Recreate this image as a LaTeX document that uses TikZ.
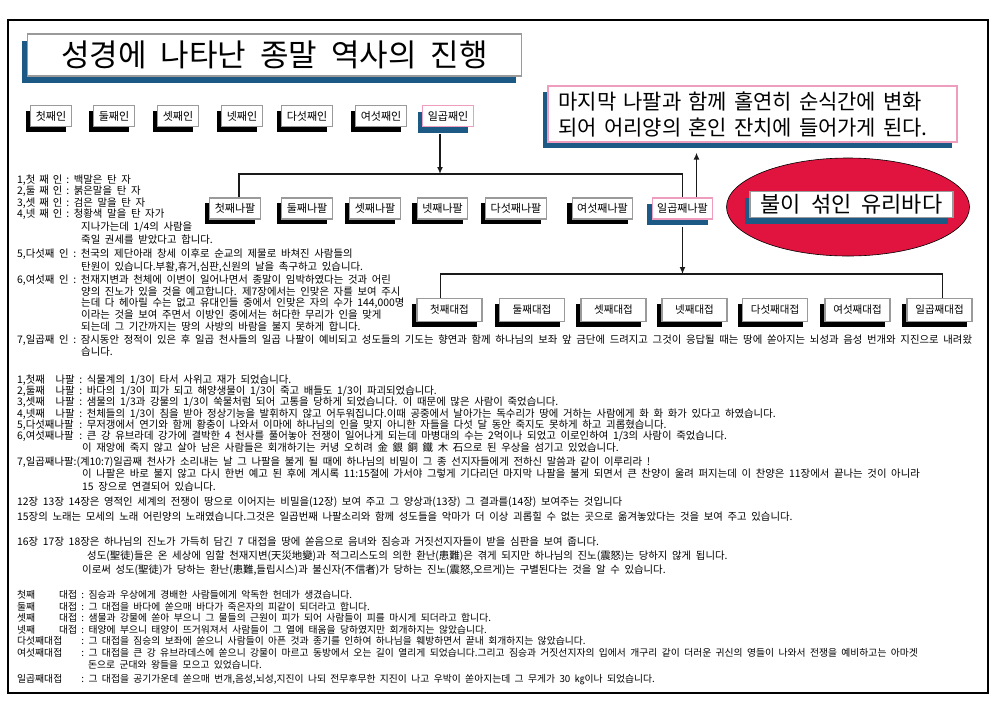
\documentclass[tikz,border=0pt]{standalone}
\usepackage{fontspec}
\setmainfont{Noto Sans CJK KR}[WordSpace=2]
\usepackage{tikz}
\usetikzlibrary{arrows.meta,positioning,shapes.geometric,shadows}
\definecolor{bkblue}{HTML}{1C5A85}
\definecolor{bkpink}{HTML}{EE9DBE}
\definecolor{bkgray}{HTML}{9A9A9A}
\definecolor{bkred}{HTML}{E0143F}
\definecolor{bkink}{HTML}{1A1A1A}

\begin{document}
\begin{tikzpicture}[x=1pt,y=-1pt,
  tagbase/.style={fill=white,line width=1.2pt,inner xsep=5pt,inner ysep=0pt,
                  minimum height=21pt,font=\fontsize{11}{11}\selectfont},
  tag/.style={tagbase,draw=bkgray,
              drop shadow={shadow xshift=-5pt,shadow yshift=-5pt,fill=black,opacity=1}},
  keytag/.style={tagbase,draw=bkpink,
              drop shadow={shadow xshift=-5pt,shadow yshift=-6pt,fill=bkblue,opacity=1}},
  bluetag/.style={tagbase,draw=bkgray,
              drop shadow={shadow xshift=-6pt,shadow yshift=-7pt,fill=bkblue,opacity=1}},
  bowl/.style={tag,minimum width=65pt,minimum height=23pt,font=\fontsize{10.5}{10.5}\selectfont},
  conn/.style={line width=1.6pt,draw=bkink},
  arr/.style={conn,-{Latex[length=7pt,width=6pt]}},
  sealtxt/.style={anchor=west,inner sep=0pt,font=\fontsize{10.4}{11}\selectfont},
  horntxt/.style={sealtxt,font=\fontsize{10.4}{11}\selectfont},
  bowltxt/.style={sealtxt,font=\fontsize{9.8}{11}\selectfont}
]
\useasboundingbox (0,0) rectangle (1000,705);
\draw[line width=1.8pt] (8,20) rectangle (988,693);

% title
\node[bluetag,minimum width=494pt,minimum height=42pt,font=\fontsize{31}{31}\selectfont]
  (title) at (274.5,55) {성경에 나타난 종말 역사의 진행};

% seals
\foreach \x/\t/\k in {51/첫째인/1,114/둘째인/2,178/셋째인/3,242/넷째인/4,307/다섯째인/5,381/여섯째인/6}
  \node[tag] (s\k) at (\x,116) {\t};
\node[keytag] (s7) at (448,116) {일곱째인};

% trumpets
\foreach \x/\t/\k in {235/첫째나팔/1,307/둘째나팔/2,375/셋째나팔/3,442.5/넷째나팔/4,516/다섯째나팔/5,602.5/여섯째나팔/6}
  \node[tag] (t\k) at (\x,208.5) {\t};
\node[keytag] (t7) at (682.5,208.5) {일곱째나팔};

% bowls
\foreach \x/\t/\k in {449.5/첫째대접/1,532/둘째대접/2,613.5/셋째대접/3,694.5/넷째대접/4,775/다섯째대접/5,857.5/여섯째대접/6,939.5/일곱째대접/7}
  \node[bowl] (b\k) at (\x,310) {\t};

% rapture and sea of glass
\node[keytag,minimum width=409pt,minimum height=56pt,text width=388pt,align=left,
      inner xsep=10pt,font=\fontsize{21}{26}\selectfont] (finale) at (752.5,114)
  {\makebox[388pt][s]{마지막 나팔과 함께 홀연히 순식간에 변화}\\되어 어리양의 혼인 잔치에 들어가게 된다.};
\node[ellipse,draw=black,line width=0.6pt,fill=bkred,minimum width=243pt,minimum height=98pt]
  (sea) at (848,207) {};
\node[keytag,draw=bkgray,minimum width=203pt,minimum height=26pt,font=\fontsize{22}{22}\selectfont]
  (glass) at (851.5,204.5) {불이 섞인 유리바다};

% connectors
\coordinate (trumpbar) at (440,174);
\coordinate (bowlbar) at (683,274);
\coordinate (sealdrop) at ([xshift=-8pt]s7.south);
\coordinate (hornleft) at ([xshift=4pt]t1.north);
\coordinate (hornrise) at ([xshift=14pt]t7.north);
\coordinate (bowlleft) at ([xshift=-9pt]b1.north);
\coordinate (bowlright) at ([xshift=3pt]b7.north);
\draw[arr,shorten <=7pt] (sealdrop) -- (sealdrop |- trumpbar);
\draw[conn] (hornleft) |- (trumpbar) -| (t7.north);
\draw[arr,shorten >=10pt] (hornrise) -- (hornrise |- finale.south);
\draw[arr,shorten <=7pt] (t7.south) -- (t7.south |- bowlbar);
\draw[conn] (bowlleft) |- (bowlbar) -| (bowlright);

% seal notes
\node[sealtxt] (sa1) at (17,180) {\makebox[52pt]{1,첫\hfill 째\hfill 인\hfill :} 백말은 탄 자};
\node[sealtxt] (sa2) at (17,191.5) {\makebox[52pt]{2,둘\hfill 째\hfill 인\hfill :} 붉은말을 탄 자};
\node[sealtxt] (sa3) at (17,203) {\makebox[52pt]{3,셋\hfill 째\hfill 인\hfill :} 검은 말을 탄 자};
\node[sealtxt] (sa4) at (17,214.5) {\makebox[52pt]{4,넷\hfill 째\hfill 인\hfill :} 청황색 말을 탄 자가};
\node[sealtxt] (sa5) at (81,227) {지나가는데 1/4의 사람을};
\node[sealtxt] (sa6) at (81,240) {죽일 권세를 받았다고 합니다.};
\node[sealtxt] (sa7) at (17,254) {\makebox[59pt]{5,다섯째\hfill 인\hfill :} 천국의 제단아래 창세 이후로 순교의 제물로 바쳐진 사람들의};
\node[sealtxt] (sa8) at (81,267) {탄원이 있습니다.부활,휴거,심판,신원의 날을 촉구하고 있습니다.};
\node[sealtxt] (sa9) at (17,280) {\makebox[59pt]{6,여섯째\hfill 인\hfill :} 천재지변과 천체에 이변이 일어나면서 종말이 임박하였다는 것과 어린};
\node[sealtxt] (sa10) at (81,291.5) {양의 진노가 있을 것을 예고합니다. 제7장에서는 인맞은 자를 보여 주시};
\node[sealtxt] (sa11) at (81,303) {는데 다 헤아릴 수는 없고 유대인들 중에서 인맞은 자의 수가 144,000명};
\node[sealtxt] (sa12) at (81,315) {이라는 것을 보여 주면서 이방인 중에서는 허다한 무리가 인을 맞게};
\node[sealtxt] (sa13) at (81,327) {되는데 그 기간까지는 땅의 사방의 바람을 불지 못하게 합니다.};
\node[sealtxt] (sa14) at (17,340) {\makebox[59pt]{7,일곱째\hfill 인\hfill :} 잠시동안 정적이 있은 후 일곱 천사들의 일곱 나팔이 예비되고 성도들의 기도는 향연과 함께 하나님의 보좌 앞 금단에 드려지고 그것이 응답될 때는 땅에 쏟아지는 뇌성과 음성 번개와 지진으로 내려왔};
\node[sealtxt] (sa15) at (81,352) {습니다.};

% trumpet notes
\node[horntxt] (ta1) at (17,380) {\makebox[65pt]{1,첫째\hfill 나팔 :} 식물계의 1/3이 타서 사위고 재가 되었습니다.};
\node[horntxt] (ta2) at (17,391) {\makebox[65pt]{2,둘째\hfill 나팔 :} 바다의 1/3이 피가 되고 해양생물이 1/3이 죽고 배들도 1/3이 파괴되었습니다.};
\node[horntxt] (ta3) at (17,402.5) {\makebox[65pt]{3,셋째\hfill 나팔 :} 샘물의 1/3과 강물의 1/3이 쑥물처럼 되어 고통을 당하게 되었습니다. 이 때문에 많은 사람이 죽었습니다.};
\node[horntxt] (ta4) at (17,414) {\makebox[65pt]{4,넷째\hfill 나팔 :} 천체들의 1/3이 침을 받아 정상기능을 발휘하지 않고 어두워집니다.이때 공중에서 날아가는 독수리가 땅에 거하는 사람에게 화 화 화가 있다고 하였습니다.};
\node[horntxt] (ta5) at (17,425) {\makebox[65pt]{5,다섯째나팔\hfill :} 무저갱에서 연기와 함께 황충이 나와서 이마에 하나님의 인을 맞지 아니한 자들을 다섯 달 동안 죽지도 못하게 하고 괴롭혔습니다.};
\node[horntxt] (ta6) at (17,436.5) {\makebox[65pt]{6,여섯째나팔\hfill :} 큰 강 유브라데 강가에 결박한 4 천사를 풀어놓아 전쟁이 일어나게 되는데 마병대의 수는 2억이나 되었고 이로인하여 1/3의 사람이 죽었습니다.};
\node[horntxt] (ta7) at (82,448) {이 재앙에 죽지 않고 살아 남은 사람들은 회개하기는 커녕 오히려 金 銀 銅 鐵 木 石으로 된 우상을 섬기고 있었습니다.};
\node[horntxt] (ta8) at (17,462) {7,일곱째나팔:(계10:7)일곱째 천사가 소리내는 날 그 나팔을 불게 될 때에 하나님의 비밀이 그 종 선지자들에게 전하신 말씀과 같이 이루리라 !};
\node[horntxt] (ta9) at (82,474) {이 나팔은 바로 불지 않고 다시 한번 예고 된 후에 계시록 11:15절에 가서야 그렇게 기다리던 마지막 나팔을 불게 되면서 큰 찬양이 울려 퍼지는데 이 찬양은 11장에서 끝나는 것이 아니라};
\node[horntxt] (ta10) at (82,486.5) {15 장으로 연결되어 있습니다.};
\node[horntxt] (na1) at (17,502) {12장 13장 14장은 영적인 세계의 전쟁이 땅으로 이어지는 비밀을(12장) 보여 주고 그 양상과(13장) 그 결과를(14장) 보여주는 것입니다};
\node[horntxt] (na2) at (17,517) {15장의 노래는 모세의 노래 어린양의 노래였습니다.그것은 일곱번째 나팔소리와 함께 성도들을 악마가 더 이상 괴롭힐 수 없는 곳으로 옮겨놓았다는 것을 보여 주고 있습니다.};
\node[horntxt] (na3) at (17,542) {16장 17장 18장은 하나님의 진노가 가득히 담긴 7 대접을 땅에 쏟음으로 음녀와 짐승과 거짓선지자들이 받을 심판을 보여 줍니다.};
\node[horntxt] (na4) at (87,556) {성도(聖徒)들은 온 세상에 임할 천재지변(天災地變)과 적그리스도의 의한 환난(患難)은 겪게 되지만 하나님의 진노(震怒)는 당하지 않게 됩니다.};
\node[horntxt] (na5) at (82,570) {이로써 성도(聖徒)가 당하는 환난(患難,들립시스)과 불신자(不信者)가 당하는 진노(震怒,오르게)는 구별된다는 것을 알 수 있습니다.};

% bowl notes
\node[bowltxt] (ba1) at (17,595) {\makebox[67pt]{첫째\hfill 대접 :} 짐승과 우상에게 경배한 사람들에게 악독한 헌데가 생겼습니다.};
\node[bowltxt] (ba2) at (17,606.5) {\makebox[67pt]{둘째\hfill 대접 :} 그 대접을 바다에 쏟으매 바다가 죽은자의 피같이 되더라고 합니다.};
\node[bowltxt] (ba3) at (17,618) {\makebox[67pt]{셋째\hfill 대접 :} 샘물과 강물에 쏟아 부으니 그 물들의 근원이 피가 되어 사람들이 피를 마시게 되더라고 합니다.};
\node[bowltxt] (ba4) at (17,629.5) {\makebox[67pt]{넷째\hfill 대접 :} 태양에 부으니 태양이 뜨거워져서 사람들이 그 열에 태움을 당하였지만 회개하지는 않았습니다.};
\node[bowltxt] (ba5) at (17,641) {\makebox[67pt]{다섯째대접\hfill :} 그 대접을 짐승의 보좌에 쏟으니 사람들이 아픈 것과 종기를 인하여 하나님을 훼방하면서 끝내 회개하지는 않았습니다.};
\node[bowltxt] (ba6) at (17,652.5) {\makebox[67pt]{여섯째대접\hfill :} 그 대접을 큰 강 유브라데스에 쏟으니 강물이 마르고 동방에서 오는 길이 열리게 되었습니다.그리고 짐승과 거짓선지자의 입에서 개구리 같이 더러운 귀신의 영들이 나와서 전쟁을 예비하고는 아마겟};
\node[bowltxt] (ba7) at (88,665) {돈으로 군대와 왕들을 모으고 있었습니다.};
\node[bowltxt] (ba8) at (17,680) {\makebox[67pt]{일곱째대접\hfill :} 그 대접을 공기가운데 쏟으매 번개,음성,뇌성,지진이 나되 전무후무한 지진이 나고 우박이 쏟아지는데 그 무게가 30 ㎏이나 되었습니다.};
\end{tikzpicture}
\end{document}
